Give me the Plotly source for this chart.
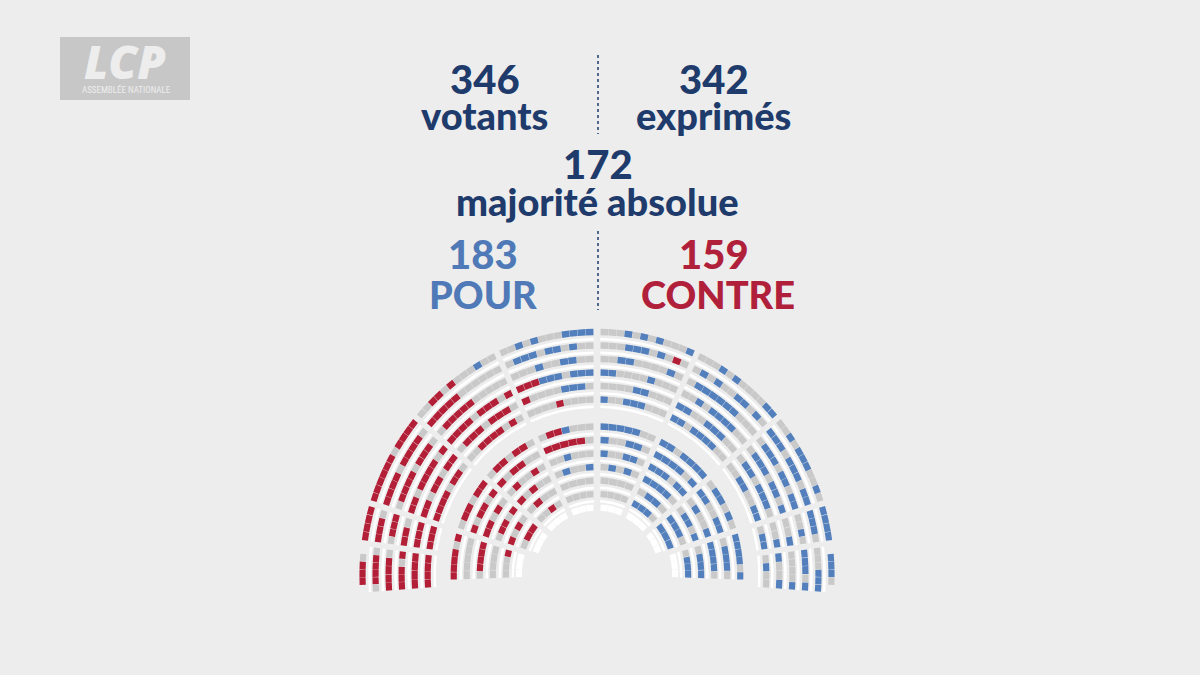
import numpy as np
import plotly.graph_objects as go

# ---------------- data ----------------
# headline figures
VOTANTS = 346
EXPRIMES = 342
MAJORITE = 172
POUR = 183
CONTRE = 159

# seat codes: R = contre, B = pour, G = absent/non-votant, W = empty seat, . = no seat
# each block: rows listed from outer row (13) to inner row, seats in clockwise order
ROWS_FULL = [13, 12, 11, 10, 9, 8, 6, 5, 4, 3, 2, 1, 0]
ROWS_DIN = [6, 5, 4, 3, 2, 1]
ROWS_DOUT = [13, 12, 11, 10, 9, 8]

A_RIGHT = ["GGGBGBGBGGGB", "GGGBBBGBGRG", "GGBBGGGGBG", "BBGGGGBGGG", "GGGGBBGGG",
           "BGGBBBGGG", "BBBBBGG", "BGGBBG", "BGGBBG", "GBGBG", "GGGG", "GGGG", "WWW"]
B_RIGHT = ["GGGBGBGGGGBB", "GBGBGGBBGBG", "GBBBBBBGGG", "GGBGBBBBGG", "BBGGBBBGG",
           "BBGBBBBGG", "BBGBBBB", "BBBBGB", "BBBGBB", "BBBBG", "GBBG", "BBBG", "WWW"]
C_RIGHT = ["GGBGBBBGGBG", "BBBGBBBGBB", "GBBBGBBGBB", "GBBBGBBGB", "GBBGBBBG",
           "GGBBGGBB", "GBBGBG", "BBGGBB", "GBGGB", "GBBGB", "BBBG", "BBB", "WWW"]
DIN_RIGHT = ["BBBBGB", "GBBBG", "BBBBG", "GBBB", "GBBB", "WWW"]
DUP_RIGHT = ["BBBB", "BBBG", "GGBG", "GGB", "GGB", "GBB"]
DLO_RIGHT = [".BBBG.", "GGGBBB", "BBBGB", "GGGGB", "BGGB", "GBGG"]

A_LEFT = ["GGBGBGGGBBBB", "GBBBGBBGBGG", "GGGBGGBBGG", "RRRBBBGBBB", "RGGGGBBBG",
          "GGGGRGGGG", "GRRBGGG", "RRRRRG", "GGBGGG", "GBGGB", "GGGG", "GGGG", "WWW"]
B_LEFT = ["GGRRGRGGGBGG", "RRRRRGGGGGG", "GRRRRRGGGGG", "RRRRGRRRGR", "GRRRGRRRG",
          "GGRRRRGRG", "GRRGRRG", "RGRRGG", "GRGGRG", "RGRGG", "GRGG", "GGRG", "WWW"]
C_LEFT = ["RRRRRRGRRRR", "RRRRGRRRRG", "GRRRRGRRRG", "RRGRRRRGR", "RRGRRGRR",
          "RRRRGRRG", "GRRGRR", "RGRRGR", "RRGRG", "GRRGR", "RGRG", "GRR", "WWW"]
DIN_LEFT = ["RRRRGR", "GGGGG", "GRRRR", "GGGG", "GGGR", "WWW"]
DUP_LEFT = ["RRRR", "RRRG", "GRRR", "RRG", "RRR", "RRR"]
DLO_LEFT = [".RRRG.", "GRRRRG", "RRRRG", "RRRGR", "RRRR", "RRRR"]

# ---------------- geometry / style ----------------
CX, CY = 597, 575          # hemicycle centre in screen pixels
HSCALE = 0.965             # horizontal squeeze of the drawing
R0, DR = 67.5, 13.5        # radius of inner row, row pitch
SEAT_H = 6.4
DESK_OFF, DESK_H = 7.2, 2.6
SEAT_GAP = 0.35

# (start angle, end angle, rows, seat strings, half-aisle at start, half-aisle at end)
BLOCKS = [
    (90, 65, ROWS_FULL, A_RIGHT, 3.5, 2.8),
    (65, 40, ROWS_FULL, B_RIGHT, 2.8, 2.8),
    (40, 17, ROWS_FULL, C_RIGHT, 2.8, 2.8),
    (17, -2, ROWS_DIN, DIN_RIGHT, 2.8, 0.5),
    (17, 7.5, ROWS_DOUT, DUP_RIGHT, 2.8, 2.8),
    (7.5, -4.3, ROWS_DOUT, DLO_RIGHT, 2.8, 0.5),
    (115, 90, ROWS_FULL, A_LEFT, 2.8, 3.5),
    (140, 115, ROWS_FULL, B_LEFT, 2.8, 2.8),
    (163, 140, ROWS_FULL, C_LEFT, 2.8, 2.8),
    (182, 163, ROWS_DIN, DIN_LEFT, 0.5, 2.8),
    (172.5, 163, ROWS_DOUT, DUP_LEFT, 2.8, 2.8),
    (184.3, 172.5, ROWS_DOUT, DLO_LEFT, 0.5, 2.8),
]

COLORS = {"R": "#B21F37", "B": "#5380BD", "G": "#C9C9C9", "W": "#FFFFFF", "D": "#FFFFFF"}
BG = "#EDEDED"
NAVY = "#1E3B6C"
BLUE_T = "#4F7AB7"
RED_T = "#B1203A"

polys = {k: ([], []) for k in COLORS}


def add_poly(key, t0, t1, r_in, r_out, n=5):
    ts = np.linspace(t0, t1, n)
    xs = list(r_out * np.cos(ts)) + list(r_in * np.cos(ts[::-1]))
    ys = list(r_out * np.sin(ts)) + list(r_in * np.sin(ts[::-1]))
    xs.append(xs[0]); ys.append(ys[0])
    polys[key][0].extend(xs + [None])
    polys[key][1].extend(ys + [None])


for a_start, a_end, rows, strings, g0, g1 in BLOCKS:
    for k, s in zip(rows, strings):
        r = R0 + DR * k
        t0 = np.radians(a_start) - g0 / r
        t1 = np.radians(a_end) + g1 / r
        step = (t0 - t1) / len(s)
        sg = SEAT_GAP / 2 / r
        for i, ch in enumerate(s):
            if ch == ".":
                continue
            ta = t0 - i * step - sg
            tb = t0 - (i + 1) * step + sg
            add_poly(ch, ta, tb, r - SEAT_H / 2, r + SEAT_H / 2, 4)
        if set(s) != {"W"}:
            add_poly("D", t0, t1, r - DESK_OFF - DESK_H / 2, r - DESK_OFF + DESK_H / 2, 24)

fig = go.Figure()
for key in ["D", "G", "W", "B", "R"]:
    xs, ys = polys[key]
    if not xs:
        continue
    fig.add_trace(go.Scatter(x=xs, y=ys, mode="lines", fill="toself",
                             fillcolor=COLORS[key], line=dict(width=0),
                             hoverinfo="skip", showlegend=False))

W, H = 1200, 675
fig.update_layout(
    width=W, height=H, margin=dict(l=0, r=0, t=0, b=0),
    paper_bgcolor=BG, plot_bgcolor=BG, showlegend=False,
    xaxis=dict(range=[-CX / HSCALE, (W - CX) / HSCALE], visible=False, fixedrange=True),
    yaxis=dict(range=[-(H - CY), CY], visible=False, fixedrange=True),
)


def px(x):
    return x / W


def py(y):
    return 1 - y / H


def txt(s, x, y, color, size=38):
    fig.add_annotation(text=s, x=px(x), y=py(y), xref="paper", yref="paper",
                       xanchor="center", yanchor="middle", showarrow=False,
                       font=dict(family="Lato", size=size, color=color, weight=900))


txt(str(VOTANTS), 485, 79, NAVY, 40)
txt("votants", 484, 115, NAVY)
txt(str(EXPRIMES), 714, 79, NAVY, 40)
txt("exprimés", 713, 115, NAVY)
txt(str(MAJORITE), 598, 164, NAVY, 40)
txt("majorité absolue", 597, 201, NAVY)
txt(str(POUR), 483, 254, BLUE_T, 40)
txt("POUR", 483, 294, BLUE_T)
txt(str(CONTRE), 714, 254, RED_T, 40)
txt("CONTRE", 718, 294, RED_T)

for y0, y1 in [(55, 134), (231, 310)]:
    fig.add_shape(type="line", xref="paper", yref="paper", x0=px(598), x1=px(598),
                  y0=py(y0), y1=py(y1), line=dict(color=NAVY, width=1.5, dash="3px,3px"))

# channel logo
fig.add_shape(type="rect", xref="paper", yref="paper", x0=px(60), x1=px(190),
              y0=py(100), y1=py(37), fillcolor="#C7C7C7", line=dict(width=0), layer="below")
fig.add_annotation(text="LCP", x=px(125), y=py(61), xref="paper", yref="paper",
                   showarrow=False, xanchor="center", yanchor="middle",
                   font=dict(family="Open Sans", size=46, color="#EDEDED", weight=800, style="italic"))
fig.add_annotation(text="ASSEMBLÉE NATIONALE", x=px(126), y=py(90), xref="paper", yref="paper",
                   showarrow=False, xanchor="center", yanchor="middle",
                   font=dict(family="Liberation Sans Narrow, Roboto Condensed, Arial Narrow", size=9, color="#EDEDED"))

fig.write_html("out.html")
